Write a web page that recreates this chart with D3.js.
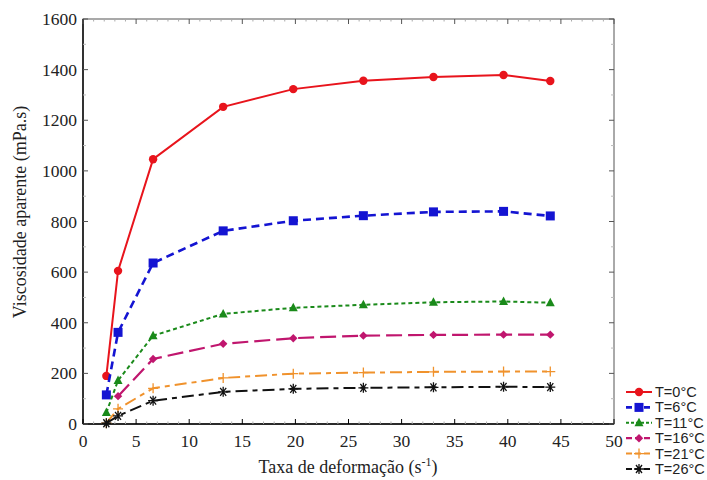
<!DOCTYPE html>
<html><head><meta charset="utf-8">
<script src="https://cdn.jsdelivr.net/npm/d3@7"></script>
<style>body{margin:0;background:#fff}</style>
</head><body><svg id="c" width="707" height="480"></svg>
<script>
const shearRates = [2.2, 3.3, 6.6, 13.2, 19.8, 26.4, 33, 39.6, 44];
const seriesNames = ["T=0°C","T=6°C","T=11°C","T=16°C","T=21°C","T=26°C"];
const visc0  = [190, 605, 1046, 1253, 1323, 1356, 1371, 1379, 1355];
const visc6  = [115, 362, 636, 763, 803, 823, 838, 840, 822];
const visc11 = [45, 172, 349, 435, 459, 471, 481, 484, 479];
const visc16 = [null, 110, 257, 317, 339, 349, 352, 353, 353];
const visc21 = [3, 60, 141, 182, 199, 203, 206, 207, 207];
const visc26 = [3, 32, 92, 127, 139, 143, 145, 147, 146];
const xTicks = [0,5,10,15,20,25,30,35,40,45,50];
const yTicks = [0,200,400,600,800,1000,1200,1400,1600];

const allSeries = [visc0, visc6, visc11, visc16, visc21, visc26];
const colors = ["#e8141c","#1414d2","#1a8a1a","#c0166e","#f0922c","#111111"];
const dashes = [null,"8,5","4,3","16,6","12,5,5,5","12,5,5,5"];
const widths = [2,2.6,2,2.2,2,2];
const shapes = ["circle","square","triangle","diamond","plus","asterisk"];

const svg = d3.select("#c");
const L=83, R=614, T=19, B=424;
const x = d3.scaleLinear().domain([0,50]).range([L,R]);
const y = d3.scaleLinear().domain([0,1600]).range([B,T]);

// frame
svg.append("rect").attr("x",L).attr("y",T).attr("width",R-L).attr("height",B-T)
  .attr("fill","none").attr("stroke","#555").attr("stroke-width",1);
svg.append("line").attr("x1",L).attr("x2",R).attr("y1",B).attr("y2",B).attr("stroke","#000").attr("stroke-width",1.6);
svg.append("line").attr("x1",L).attr("x2",L).attr("y1",T).attr("y2",B).attr("stroke","#000").attr("stroke-width",1.4);

// ticks inward
const g = svg.append("g");
xTicks.forEach(t=>{
  g.append("line").attr("x1",x(t)).attr("x2",x(t)).attr("y1",B).attr("y2",B-5).attr("stroke","#000");
  g.append("line").attr("x1",x(t)).attr("x2",x(t)).attr("y1",T).attr("y2",T+5).attr("stroke","#555");
});
d3.range(0,51,1).forEach(t=>{ if(t%5) {
  g.append("line").attr("x1",x(t)).attr("x2",x(t)).attr("y1",T).attr("y2",T+2.5).attr("stroke","#aaa");
  g.append("line").attr("x1",x(t)).attr("x2",x(t)).attr("y1",B).attr("y2",B-2.5).attr("stroke","#aaa");
}});
yTicks.forEach(t=>{
  g.append("line").attr("x1",R).attr("x2",R-5).attr("y1",y(t)).attr("y2",y(t)).attr("stroke","#555");
  g.append("line").attr("x1",L).attr("x2",L+5).attr("y1",y(t)).attr("y2",y(t)).attr("stroke","#555");
});
d3.range(100,1600,200).forEach(t=>{
  g.append("line").attr("x1",R).attr("x2",R-3).attr("y1",y(t)).attr("y2",y(t)).attr("stroke","#bbb");
  g.append("line").attr("x1",L).attr("x2",L+3).attr("y1",y(t)).attr("y2",y(t)).attr("stroke","#bbb");
});

// tick labels
const serif = "Liberation Serif, DejaVu Serif, serif";
svg.append("g").selectAll("text").data(xTicks).join("text")
  .attr("x",d=>x(d)).attr("y",447).attr("text-anchor","middle")
  .attr("font-family",serif).attr("font-size",17.5).attr("fill","#222").text(d=>d);
svg.append("g").selectAll("text").data(yTicks).join("text")
  .attr("x",77).attr("y",d=>y(d)+6).attr("text-anchor","end")
  .attr("font-family",serif).attr("font-size",17.5).attr("fill","#222").text(d=>d);

// axis titles
const xt = svg.append("text").attr("x",348).attr("y",473).attr("text-anchor","middle")
  .attr("font-family",serif).attr("font-size",18).attr("fill","#222");
xt.append("tspan").text("Taxa de deformação (s");
xt.append("tspan").attr("dy",-7).attr("font-size",12).text("-1");
xt.append("tspan").attr("dy",7).text(")");
svg.append("text").attr("transform","translate(26,212) rotate(-90)").attr("text-anchor","middle")
  .attr("font-family",serif).attr("font-size",18).attr("fill","#222").text("Viscosidade aparente (mPa.s)");

// marker drawer
function marker(sel, shape, color, cx, cy){
  const s = sel.append("g").attr("transform",`translate(${cx},${cy})`);
  if(shape==="circle") s.append("circle").attr("r",4.2).attr("fill",color);
  else if(shape==="square") s.append("rect").attr("x",-4.5).attr("y",-4.5).attr("width",9).attr("height",9).attr("fill",color);
  else if(shape==="triangle") s.append("path").attr("d","M0,-5L4.5,3.5L-4.5,3.5Z").attr("fill",color);
  else if(shape==="diamond") s.append("path").attr("d","M0,-4.2L4.2,0L0,4.2L-4.2,0Z").attr("fill",color);
  else if(shape==="plus") s.append("path").attr("d","M-5,0H5M0,-5V5").attr("stroke",color).attr("stroke-width",1.3);
  else if(shape==="asterisk") s.append("path").attr("d","M-5,0H5M-3,-4L3,4M3,-4L-3,4M0,-5V5").attr("stroke",color).attr("stroke-width",1.3);
}

const line = d3.line().defined(d=>d[1]!=null).x(d=>x(d[0])).y(d=>y(d[1]));
allSeries.forEach((vals,i)=>{
  const pts = shearRates.map((r,j)=>[r,vals[j]]);
  svg.append("path").datum(pts).attr("d",line).attr("fill","none")
    .attr("stroke",colors[i]).attr("stroke-width",widths[i])
    .attr("stroke-dasharray",dashes[i]);
  const mg = svg.append("g");
  pts.filter(p=>p[1]!=null).forEach(p=>marker(mg,shapes[i],colors[i],x(p[0]),y(p[1])));
});

// legend
const lg = svg.append("g");
seriesNames.forEach((n,i)=>{
  const ly = 392 + i*15.4;
  lg.append("line").attr("x1",626).attr("x2",652).attr("y1",ly).attr("y2",ly)
    .attr("stroke",colors[i]).attr("stroke-width",widths[i]).attr("stroke-dasharray",dashes[i]? (i===2?"3,2":"6,3"):null);
  marker(lg,shapes[i],colors[i],639,ly);
  lg.append("text").attr("x",655).attr("y",ly+5).attr("font-family","Liberation Sans, Arial, sans-serif")
    .attr("font-size",14.5).attr("fill","#222").text(n);
});
</script></body></html>
